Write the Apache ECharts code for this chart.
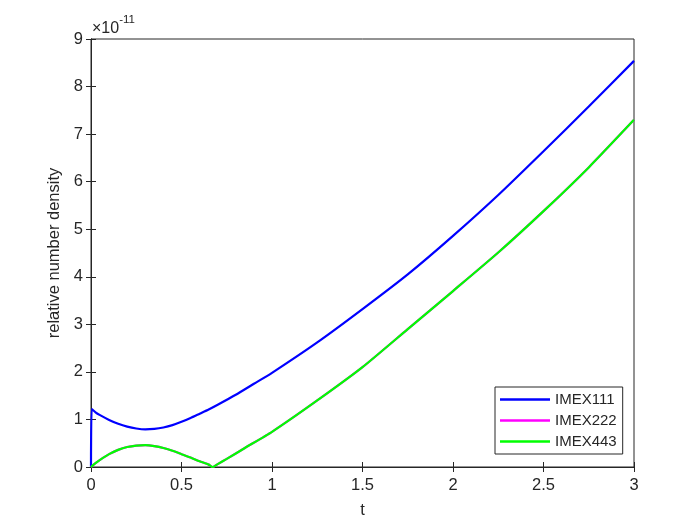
<!DOCTYPE html>
<html>
<head>
<meta charset="utf-8">
<script src="https://cdn.jsdelivr.net/npm/echarts@6/dist/echarts.min.js"></script>
<style>html,body{margin:0;padding:0;background:#fff}#c{width:700px;height:525px}</style>
</head>
<body>
<div id="c"></div>
<script>
// values in units of 1e-11
const blueT = [0, 0.004, 0.025, 0.05, 0.1, 0.15, 0.2, 0.25, 0.3, 0.35, 0.4, 0.45, 0.5, 0.55, 0.6, 0.65, 0.7, 0.8, 0.9, 1.0, 1.25, 1.5, 1.75, 2.0, 2.25, 2.5, 2.75, 3.0];
const blueV = [0, 1.22, 1.15, 1.09, 0.99, 0.91, 0.85, 0.81, 0.79, 0.80, 0.83, 0.88, 0.95, 1.03, 1.12, 1.21, 1.31, 1.52, 1.75, 1.98, 2.62, 3.32, 4.05, 4.86, 5.72, 6.64, 7.58, 8.54];
const greenT = [0, 0.025, 0.05, 0.1, 0.15, 0.2, 0.25, 0.3, 0.35, 0.4, 0.45, 0.5, 0.55, 0.6, 0.65, 0.672, 0.7, 0.75, 0.85, 1.0, 1.25, 1.5, 1.75, 2.0, 2.25, 2.5, 2.75, 3.0];
const greenV = [0, 0.08, 0.15, 0.27, 0.36, 0.42, 0.45, 0.46, 0.44, 0.40, 0.34, 0.27, 0.20, 0.12, 0.05, 0, 0.06, 0.17, 0.40, 0.74, 1.40, 2.10, 2.90, 3.70, 4.51, 5.38, 6.30, 7.30];
const magentaT = greenT;
const magentaV = greenV;
const names = ['IMEX111', 'IMEX222', 'IMEX443'];

const pair = (t, v) => t.map((x, i) => [x, v[i]]);
const ax = '#262626';
const font = '"Liberation Sans", Arial, sans-serif';

const chart = echarts.init(document.getElementById('c'));
chart.setOption({
  animation: false,
  backgroundColor: '#fff',
  grid: {left: 91, right: 66, top: 39, bottom: 58, show: true, borderColor: ax, borderWidth: 1, backgroundColor: 'transparent'},
  xAxis: [{
    type: 'value', min: 0, max: 3, interval: 0.5,
    name: 't', nameLocation: 'middle', nameGap: 35,
    nameTextStyle: {color: ax, fontSize: 16.5, fontFamily: font},
    axisLine: {show: true, lineStyle: {color: ax, width: 1}},
    axisTick: {show: true, inside: true, length: 5, lineStyle: {color: ax}},
    axisLabel: {color: ax, fontSize: 16.5, fontFamily: font, margin: 10},
    splitLine: {show: false}
  }, {
    type: 'value', min: 0, max: 3, interval: 0.5, position: 'top',
    axisLine: {show: true, lineStyle: {color: ax, width: 1}},
    axisTick: {show: true, inside: true, length: 5, lineStyle: {color: ax}},
    axisLabel: {show: false}, splitLine: {show: false}
  }],
  yAxis: [{
    type: 'value', min: 0, max: 9, interval: 1,
    name: 'relative number density', nameLocation: 'middle', nameGap: 25,
    nameTextStyle: {color: ax, fontSize: 16.5, fontFamily: font},
    axisLine: {show: true, lineStyle: {color: ax, width: 1}},
    axisTick: {show: true, inside: true, length: 5, lineStyle: {color: ax}},
    axisLabel: {color: ax, fontSize: 16.5, fontFamily: font, margin: 8},
    splitLine: {show: false}
  }, {
    type: 'value', min: 0, max: 9, interval: 1, position: 'right',
    axisLine: {show: true, lineStyle: {color: ax, width: 1}},
    axisTick: {show: true, inside: true, length: 5, lineStyle: {color: ax}},
    axisLabel: {show: false}, splitLine: {show: false}
  }],
  legend: {
    data: names.map(n => ({name: n, icon: 'rect'})),
    orient: 'vertical',
    left: 495, top: 387,
    padding: [4, 6, 4, 5],
    itemGap: 4,
    itemWidth: 50, itemHeight: 2.5,
    backgroundColor: '#fff',
    borderColor: ax, borderWidth: 1, borderRadius: 0,
    textStyle: {color: ax, fontSize: 15, fontFamily: font, lineHeight: 17}
  },
  graphic: [{
    type: 'text', left: 92, top: 14,
    style: {
      text: '{a|×10}{b|-11}',
      rich: {
        a: {fontSize: 16, fontFamily: font, fill: ax, padding: [7, 0, 0, 0]},
        b: {fontSize: 11.5, fontFamily: font, fill: ax, verticalAlign: 'top', padding: [0, 0, 0, 0]}
      }
    }
  }],
  series: [
    {name: names[0], type: 'line', data: pair(blueT, blueV), symbol: 'none', smooth: 0.2, lineStyle: {color: '#0000ff', width: 2.2}, itemStyle: {color: '#0000ff'}, z: 3},
    {name: names[1], type: 'line', data: pair(magentaT, magentaV), symbol: 'none', smooth: 0.2, lineStyle: {color: '#ff00ff', width: 2.2}, itemStyle: {color: '#ff00ff'}, z: 4},
    {name: names[2], type: 'line', data: pair(greenT, greenV), symbol: 'none', smooth: 0.2, lineStyle: {color: '#00ff00', width: 2.2}, itemStyle: {color: '#00ff00'}, z: 5}
  ]
});
</script>
</body>
</html>
